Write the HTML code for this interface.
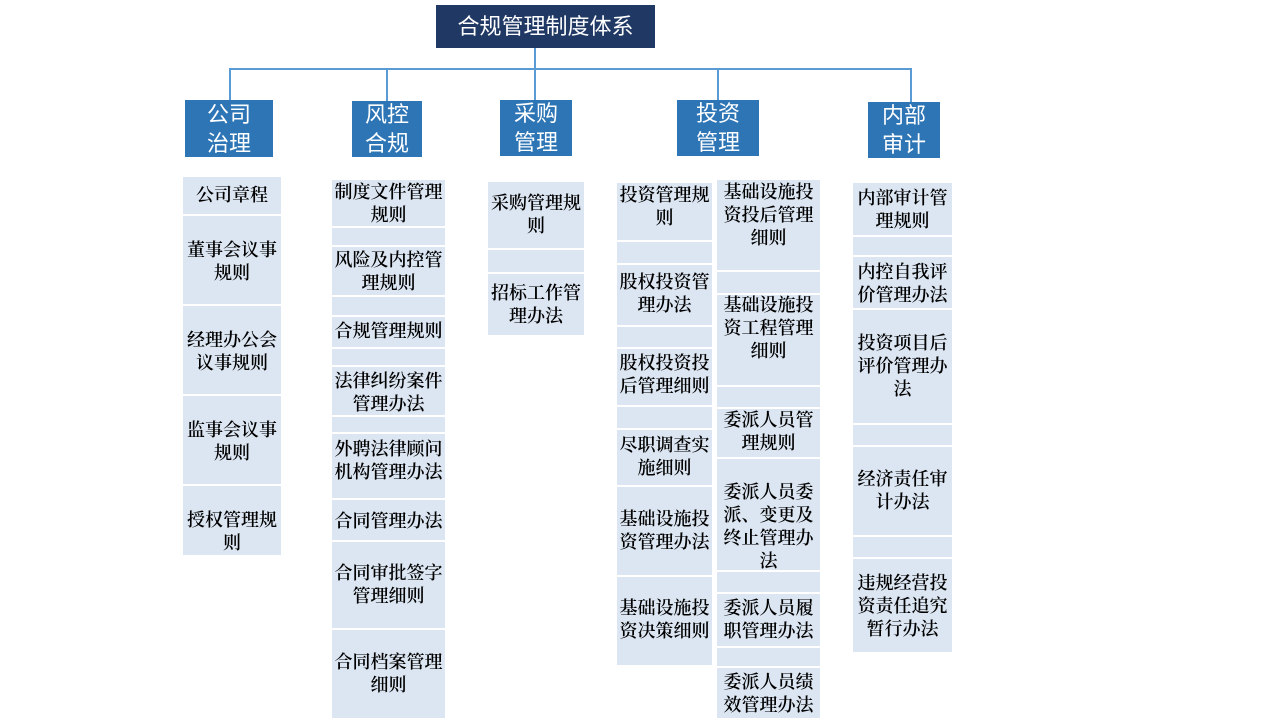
<!DOCTYPE html>
<html><head><meta charset="utf-8"><style>
body{margin:0;width:1280px;height:720px;background:#fff;position:relative;overflow:hidden;font-family:"Liberation Serif","Noto Serif CJK SC",serif;}
.a{position:absolute}
.col{position:absolute;background:#dce6f2}
.sep{position:absolute;left:0;right:0;height:2px;background:#fff}
.t{position:absolute;left:0;right:0;text-align:center;font-size:18px;line-height:23px;color:#000;font-weight:600;white-space:nowrap}
.h{position:absolute;background:#2e75b6;color:#fff;font-size:22px;line-height:29px;text-align:center;display:flex;align-items:center;justify-content:center;font-family:"Liberation Sans","Noto Sans CJK SC",sans-serif}
.ln{position:absolute;background:#5b9bd5}
</style></head><body>
<div class="a" style="left:436px;top:5px;width:219px;height:43px;background:#1f3864;color:#fff;font-size:22px;line-height:43px;text-align:center;font-family:'Liberation Sans','Noto Sans CJK SC',sans-serif">合规管理制度体系</div>
<div class="ln" style="left:534px;top:48px;width:2px;height:52px"></div>
<div class="ln" style="left:229px;top:68px;width:683px;height:2px"></div>
<div class="ln" style="left:229px;top:68px;width:2px;height:32px"></div>
<div class="ln" style="left:386px;top:68px;width:2px;height:33px"></div>
<div class="ln" style="left:717px;top:68px;width:2px;height:32px"></div>
<div class="ln" style="left:910px;top:68px;width:2px;height:34px"></div>
<div class="h" style="left:185px;top:100px;width:88px;height:57px">公司<br>治理</div>
<div class="h" style="left:352px;top:101px;width:70px;height:56px">风控<br>合规</div>
<div class="h" style="left:500px;top:100px;width:72px;height:56px">采购<br>管理</div>
<div class="h" style="left:677px;top:100px;width:82px;height:56px">投资<br>管理</div>
<div class="h" style="left:868px;top:102px;width:72px;height:56px">内部<br>审计</div>

<div class="col" style="left:183px;top:177px;width:98px;height:378px">
<div class="sep" style="top:37px"></div><div class="sep" style="top:127px"></div><div class="sep" style="top:217px"></div><div class="sep" style="top:307px"></div>
<div class="t" style="top:7px">公司章程</div>
<div class="t" style="top:62px">董事会议事<br>规则</div>
<div class="t" style="top:152px">经理办公会<br>议事规则</div>
<div class="t" style="top:242px">监事会议事<br>规则</div>
<div class="t" style="top:332px">授权管理规<br>则</div>
</div>

<div class="col" style="left:332px;top:180px;width:113px;height:538px">
<div class="sep" style="top:46px"></div><div class="sep" style="top:65px"></div><div class="sep" style="top:115px"></div><div class="sep" style="top:135px"></div><div class="sep" style="top:167px"></div><div class="sep" style="top:185px"></div><div class="sep" style="top:235px"></div><div class="sep" style="top:252px"></div><div class="sep" style="top:318px"></div><div class="sep" style="top:360px"></div><div class="sep" style="top:448px"></div>
<div class="t" style="top:1px">制度文件管理<br>规则</div>
<div class="t" style="top:69px">风险及内控管<br>理规则</div>
<div class="t" style="top:140px">合规管理规则</div>
<div class="t" style="top:190px">法律纠纷案件<br>管理办法</div>
<div class="t" style="top:258px">外聘法律顾问<br>机构管理办法</div>
<div class="t" style="top:330px">合同管理办法</div>
<div class="t" style="top:382px">合同审批签字<br>管理细则</div>
<div class="t" style="top:471px">合同档案管理<br>细则</div>
</div>

<div class="col" style="left:488px;top:182px;width:96px;height:153px">
<div class="sep" style="top:66px"></div><div class="sep" style="top:90px"></div>
<div class="t" style="top:10px">采购管理规<br>则</div>
<div class="t" style="top:100px">招标工作管<br>理办法</div>
</div>

<div class="col" style="left:617px;top:183px;width:95px;height:482px">
<div class="sep" style="top:57px"></div><div class="sep" style="top:80px"></div><div class="sep" style="top:142px"></div><div class="sep" style="top:164px"></div><div class="sep" style="top:222px"></div><div class="sep" style="top:245px"></div><div class="sep" style="top:302px"></div><div class="sep" style="top:392px"></div>
<div class="t" style="top:1px">投资管理规<br>则</div>
<div class="t" style="top:88px">股权投资管<br>理办法</div>
<div class="t" style="top:169px">股权投资投<br>后管理细则</div>
<div class="t" style="top:251px">尽职调查实<br>施细则</div>
<div class="t" style="top:325px">基础设施投<br>资管理办法</div>
<div class="t" style="top:414px">基础设施投<br>资决策细则</div>
</div>

<div class="col" style="left:717px;top:180px;width:103px;height:538px">
<div class="sep" style="top:90px"></div><div class="sep" style="top:113px"></div><div class="sep" style="top:205px"></div><div class="sep" style="top:227px"></div><div class="sep" style="top:277px"></div><div class="sep" style="top:390px"></div><div class="sep" style="top:412px"></div><div class="sep" style="top:466px"></div><div class="sep" style="top:486px"></div>
<div class="t" style="top:1px">基础设施投<br>资投后管理<br>细则</div>
<div class="t" style="top:114px">基础设施投<br>资工程管理<br>细则</div>
<div class="t" style="top:229px">委派人员管<br>理规则</div>
<div class="t" style="top:301px">委派人员委<br>派、变更及<br>终止管理办<br>法</div>
<div class="t" style="top:417px">委派人员履<br>职管理办法</div>
<div class="t" style="top:491px">委派人员绩<br>效管理办法</div>
</div>

<div class="col" style="left:853px;top:183px;width:99px;height:469px">
<div class="sep" style="top:52px"></div><div class="sep" style="top:72px"></div><div class="sep" style="top:125px"></div><div class="sep" style="top:240px"></div><div class="sep" style="top:262px"></div><div class="sep" style="top:352px"></div><div class="sep" style="top:374px"></div>
<div class="t" style="top:4px">内部审计管<br>理规则</div>
<div class="t" style="top:78px">内控自我评<br>价管理办法</div>
<div class="t" style="top:149px">投资项目后<br>评价管理办<br>法</div>
<div class="t" style="top:285px">经济责任审<br>计办法</div>
<div class="t" style="top:389px">违规经营投<br>资责任追究<br>暂行办法</div>
</div>
</body></html>
